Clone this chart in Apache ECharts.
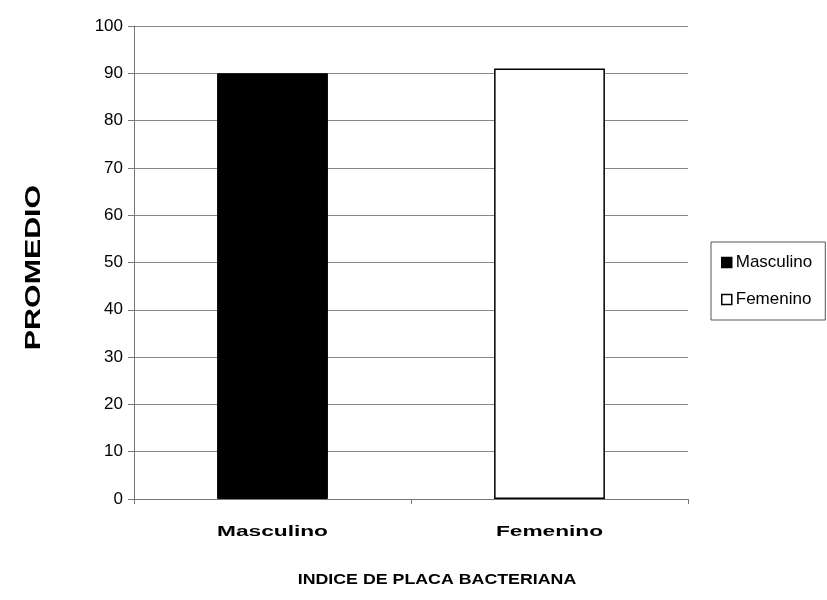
<!DOCTYPE html>
<html>
<head>
<meta charset="utf-8">
<style>
  html, body { margin: 0; padding: 0; background: #fff; }
  #chart { width: 827px; height: 600px; }
</style>
<script src="https://cdn.jsdelivr.net/npm/echarts@6/dist/echarts.min.js"></script>
</head>
<body>
<div id="chart"></div>
<script>
// Average bacterial plaque index by sex
const categories = ['Masculino', 'Femenino'];
const seriesNames = ['Masculino', 'Femenino'];
const values = [90, 91];
const yTicks = [0, 10, 20, 30, 40, 50, 60, 70, 80, 90, 100];
const xTitle = 'INDICE DE PLACA BACTERIANA';
const yTitle = 'PROMEDIO';

const fontFamily = 'Arial, "Liberation Sans", sans-serif';
const chart = echarts.init(document.getElementById('chart'), null, { renderer: 'canvas' });

// One series per category so each bar gets its own legend entry
const barStyles = [
  { color: '#000000', borderColor: '#000000', borderWidth: 1 },
  { color: '#ffffff', borderColor: '#000000', borderWidth: 1.5 }
];
const series = seriesNames.map((name, i) => ({
  name: name,
  type: 'bar',
  stack: 'total',
  barWidth: '40%',
  itemStyle: barStyles[i],
  data: categories.map((c, j) => (j === i ? values[i] : '-'))
}));

chart.setOption({
  animation: false,
  backgroundColor: '#ffffff',
  grid: { left: 134, right: 139, top: 26, bottom: 101, containLabel: false },
  legend: {
    orient: 'vertical',
    left: 711,
    top: 242,
    itemWidth: 10,
    itemHeight: 10,
    itemGap: 20,
    padding: [12, 13, 12, 10],
    borderColor: '#555',
    borderWidth: 1,
    icon: 'rect',
    textStyle: { fontFamily, fontSize: 17, color: '#000', padding: [0, 0, 0, -1] },
    data: seriesNames.map((n, i) => ({
      name: n,
      itemStyle: { color: barStyles[i].color, borderColor: '#000', borderWidth: 1.5 }
    }))
  },
  xAxis: {
    type: 'category',
    data: categories,
    axisLine: { lineStyle: { color: '#777', width: 1 } },
    axisTick: { show: true, length: 5, lineStyle: { color: '#777' } },
    axisLabel: { show: false },
    splitLine: { show: false }
  },
  yAxis: {
    type: 'value',
    min: yTicks[0],
    max: yTicks[yTicks.length - 1],
    interval: yTicks[1] - yTicks[0],
    axisLine: { show: true, lineStyle: { color: '#777', width: 1 } },
    axisTick: { show: true, length: 6, lineStyle: { color: '#777' } },
    axisLabel: { fontFamily, fontSize: 17, color: '#000', margin: 11 },
    splitLine: { show: true, lineStyle: { color: '#888', width: 1 } }
  },
  series: series
});

// Wide bold category labels and axis titles, placed from the axis scale
const boldText = (text, x, y, size, scaleX, rotation) => ({
  type: 'text',
  x: x,
  y: y,
  rotation: rotation || 0,
  scaleX: scaleX,
  scaleY: 1,
  silent: true,
  style: {
    text: text,
    font: 'bold ' + size + 'px ' + fontFamily,
    fill: '#000',
    align: 'center',
    verticalAlign: 'middle'
  }
});

const axisBottom = chart.convertToPixel({ yAxisIndex: 0 }, yTicks[0]);
const axisTop = chart.convertToPixel({ yAxisIndex: 0 }, yTicks[yTicks.length - 1]);
const labels = categories.map(c =>
  boldText(c, chart.convertToPixel({ xAxisIndex: 0 }, c), axisBottom + 33, 14, 1.62)
);
labels.push(boldText(xTitle, 437, axisBottom + 81, 14, 1.27));
labels.push(boldText(yTitle, 34, (axisBottom + axisTop) / 2 + 5, 22, 1.38, Math.PI / 2));

chart.setOption({ graphic: labels });
</script>
</body>
</html>
